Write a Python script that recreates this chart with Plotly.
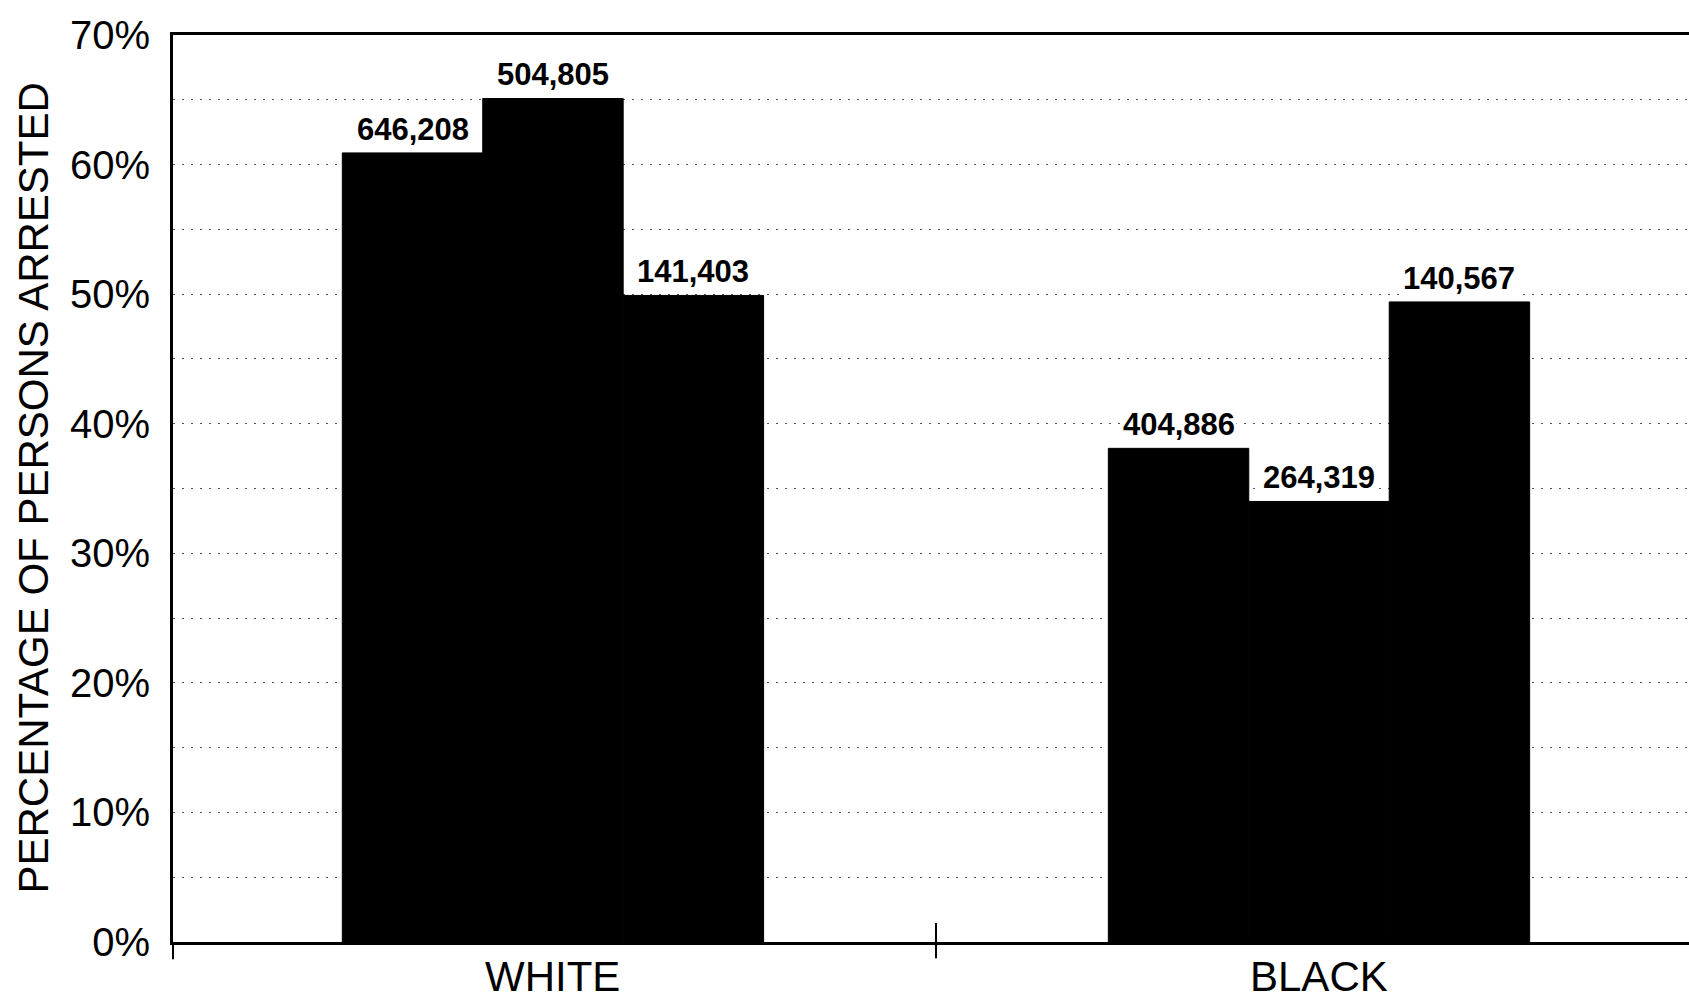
import plotly.graph_objects as go

# Categories on the x axis
categories = ["WHITE", "BLACK"]

# Share of persons arrested, one list per series (three bars per category)
series_1_share = [0.609, 0.381]
series_2_share = [0.651, 0.340]
series_3_share = [0.499, 0.494]

# Counts printed above each bar
series_1_counts = ["646,208", "404,886"]
series_2_counts = ["504,805", "264,319"]
series_3_counts = ["141,403", "140,567"]

# Y axis ticks
y_tickvals = [0.0, 0.1, 0.2, 0.3, 0.4, 0.5, 0.6, 0.7]
y_ticktext = ["0%", "10%", "20%", "30%", "40%", "50%", "60%", "70%"]

FONT = "Liberation Sans, Arial, sans-serif"
BARGAP = 0.45
N_SERIES = 3

WIDTH, HEIGHT = 1689, 994
M_L, M_R, M_T, M_B = 173, 0, 35, 52
PLOT_W = WIDTH - M_L - M_R

x_pos = list(range(len(categories)))
shares = [series_1_share, series_2_share, series_3_share]
counts = [series_1_counts, series_2_counts, series_3_counts]

fig = go.Figure()
for k, vals in enumerate(shares):
    fig.add_trace(go.Bar(
        x=x_pos,
        y=vals,
        name=f"series {k + 1}",
        marker=dict(color="black", line=dict(width=1, color="black")),
        showlegend=False,
        hoverinfo="skip",
    ))

# Count labels on a white box just above every bar
bar_w = (1 - BARGAP) / N_SERIES
annotations = []
for k, (vals, labs) in enumerate(zip(shares, counts)):
    off = (k - (N_SERIES - 1) / 2) * bar_w
    for xi, v, lab in zip(x_pos, vals, labs):
        annotations.append(dict(
            x=xi + off, y=v, xref="x", yref="y",
            text=f"<b>{lab}</b>", showarrow=False,
            xanchor="center", yanchor="bottom", yshift=4,
            bgcolor="white", borderpad=1,
            font=dict(family=FONT, size=31, color="black"),
        ))

# Category names under the baseline
for xi, cat in zip(x_pos, categories):
    annotations.append(dict(
        x=xi, xref="x", y=0, yref="paper",
        text=cat, showarrow=False,
        xanchor="center", yanchor="middle", yshift=-34,
        font=dict(family=FONT, size=42, color="black"),
    ))

# Y axis title, centred 33 px from the left edge of the page
annotations.append(dict(
    x=(33 - M_L) / PLOT_W, xref="paper", xanchor="center",
    y=0.5, yref="paper", yanchor="middle",
    text="PERCENTAGE OF PERSONS ARRESTED", textangle=-90, showarrow=False,
    font=dict(family=FONT, size=42, color="black"),
))

fig.update_layout(
    width=WIDTH,
    height=HEIGHT,
    margin=dict(l=M_L, r=M_R, t=M_T, b=M_B, pad=0, autoexpand=False),
    paper_bgcolor="white",
    plot_bgcolor="white",
    barmode="group",
    bargap=BARGAP,
    bargroupgap=0,
    annotations=annotations,
    xaxis=dict(
        range=[-0.496, 1.483],
        tickvals=x_pos,
        showticklabels=False,
        ticks="",
        showgrid=False,
        zeroline=False,
        showline=True,
        linecolor="black",
        linewidth=3,
        mirror=True,
        automargin=False,
    ),
    yaxis=dict(
        range=[0, 0.7],
        tickvals=y_tickvals,
        ticktext=y_ticktext,
        ticks="",
        showgrid=True,
        gridcolor="#555555",
        gridwidth=1,
        griddash="2px,7px",
        minor=dict(dtick=0.05, tick0=0, showgrid=True, gridcolor="#555555",
                   gridwidth=1, griddash="2px,7px"),
        zeroline=False,
        showline=True,
        linecolor="black",
        linewidth=3,
        automargin=False,
        ticklabelstandoff=12,
        tickfont=dict(family=FONT, size=40, color="black"),
    ),
    shapes=[
        # divider tick between the two categories, crossing the baseline
        dict(type="line", xref="x", yref="paper", x0=0.5, x1=0.5,
             y0=-0.018, y1=0.021, line=dict(color="black", width=2)),
        # short extension of the value axis below the baseline
        dict(type="line", xref="paper", yref="paper", x0=0, x1=0,
             y0=-0.019, y1=0, line=dict(color="black", width=2)),
    ],
)

fig.write_html("out.html")
